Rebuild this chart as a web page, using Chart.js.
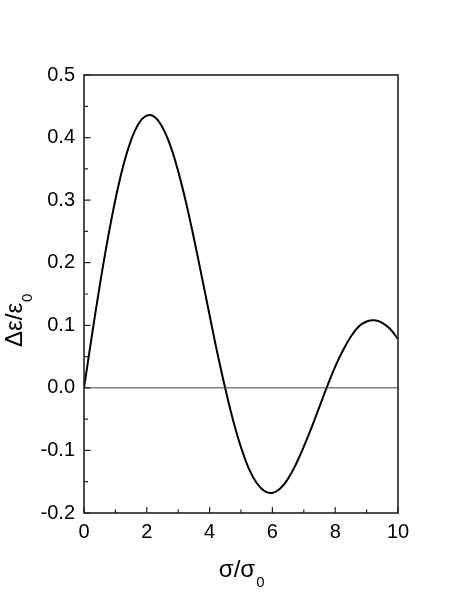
<!DOCTYPE html>
<html>
<head>
<meta charset="utf-8">
<script src="https://cdn.jsdelivr.net/npm/chart.js@4/dist/chart.umd.min.js"></script>
<style>
  html, body { margin: 0; padding: 0; background: #fff; }
  canvas { display: block; }
</style>
</head>
<body>
<canvas id="chart" width="463" height="609"></canvas>
<script>
// values
const sigmaRatio = [0, 0.25, 0.5, 0.75, 1, 1.25, 1.5, 1.75, 2, 2.25, 2.5, 2.75, 3, 3.25, 3.5, 3.75,
  4, 4.25, 4.5, 4.75, 5, 5.25, 5.5, 5.75, 6, 6.25, 6.5, 6.75, 7, 7.25, 7.5, 7.75,
  8, 8.25, 8.5, 8.75, 9, 9.25, 9.5, 9.75, 10];
const deltaEps = [0, 0.083, 0.163, 0.236, 0.301, 0.355, 0.396, 0.423, 0.435, 0.433, 0.416, 0.387, 0.346, 0.296, 0.239, 0.178,
  0.116, 0.055, -0.001, -0.052, -0.095, -0.129, -0.152, -0.165, -0.168, -0.161, -0.145, -0.122, -0.094, -0.063, -0.030, 0.003,
  0.034, 0.060, 0.082, 0.098, 0.106, 0.108, 0.104, 0.094, 0.078];
const zeroX = [0, 10];
const zeroY = [0, 0];

const xTicks = [0, 2, 4, 6, 8, 10];
const xMinorTicks = [1, 3, 5, 7, 9];
const yTicks = [-0.2, -0.1, 0.0, 0.1, 0.2, 0.3, 0.4, 0.5];
const yMinorTicks = [-0.15, -0.05, 0.05, 0.15, 0.25, 0.35, 0.45];

const FONT = '"Liberation Sans", Arial, sans-serif';

const frameAndTicks = {
  id: 'frameAndTicks',
  afterDraw(chart) {
    const { ctx, chartArea: a, scales: { x, y } } = chart;
    ctx.save();
    ctx.strokeStyle = '#222';
    ctx.lineWidth = 1.6;
    ctx.strokeRect(a.left, a.top, a.right - a.left, a.bottom - a.top);

    // inward ticks
    ctx.lineWidth = 1.2;
    ctx.beginPath();
    xTicks.forEach(v => { const p = x.getPixelForValue(v); ctx.moveTo(p, a.bottom); ctx.lineTo(p, a.bottom - 6); });
    xMinorTicks.forEach(v => { const p = x.getPixelForValue(v); ctx.moveTo(p, a.bottom); ctx.lineTo(p, a.bottom - 3.5); });
    yTicks.forEach(v => { const p = y.getPixelForValue(v); ctx.moveTo(a.left, p); ctx.lineTo(a.left + 6.5, p); });
    yMinorTicks.forEach(v => { const p = y.getPixelForValue(v); ctx.moveTo(a.left, p); ctx.lineTo(a.left + 4, p); });
    ctx.stroke();

    // axis titles with subscripts
    ctx.fillStyle = '#000';
    ctx.textBaseline = 'alphabetic';
    ctx.textAlign = 'left';
    ctx.font = '24px ' + FONT;
    const xt = 'σ/σ';
    const xw = ctx.measureText(xt).width;
    const x0 = (a.left + a.right) / 2 - (xw + 8) / 2;
    ctx.fillText(xt, x0, 577);
    ctx.font = '15px ' + FONT;
    ctx.fillText('0', x0 + xw + 1, 587);

    ctx.translate(22, 347);
    ctx.rotate(-Math.PI / 2);
    ctx.font = '24px ' + FONT;
    const yt = 'Δε/ε';
    const yw = ctx.measureText(yt).width;
    ctx.fillText(yt, 0, 0);
    ctx.font = '15px ' + FONT;
    ctx.fillText('0', yw + 1, 10);
    ctx.restore();
  }
};

new Chart(document.getElementById('chart'), {
  type: 'scatter',
  data: {
    datasets: [
      {
        data: zeroX.map((v, i) => ({ x: v, y: zeroY[i] })),
        showLine: true,
        borderColor: '#444',
        borderWidth: 1,
        pointRadius: 0
      },
      {
        data: sigmaRatio.map((v, i) => ({ x: v, y: deltaEps[i] })),
        showLine: true,
        borderColor: '#000',
        borderWidth: 2,
        pointRadius: 0,
        tension: 0.4
      }
    ]
  },
  options: {
    responsive: false,
    animation: false,
    layout: { padding: { left: 0, top: 75, right: 65, bottom: 0 } },
    plugins: { legend: { display: false }, tooltip: { enabled: false } },
    scales: {
      x: {
        type: 'linear',
        min: 0,
        max: 10,
        afterBuildTicks: s => { s.ticks = xTicks.map(v => ({ value: v })); },
        afterFit: s => { s.height = 96; },
        grid: { display: false, drawTicks: false },
        border: { display: false },
        ticks: { color: '#000', font: { family: FONT, size: 20 }, padding: 7, maxRotation: 0 }
      },
      y: {
        min: -0.2,
        max: 0.5,
        afterBuildTicks: s => { s.ticks = yTicks.map(v => ({ value: v })); },
        afterFit: s => { s.width = 84; },
        grid: { display: false, drawTicks: false },
        border: { display: false },
        ticks: {
          color: '#000',
          font: { family: FONT, size: 20 },
          padding: 9,
          callback: v => v.toFixed(1)
        }
      }
    }
  },
  plugins: [frameAndTicks]
});
</script>
</body>
</html>
